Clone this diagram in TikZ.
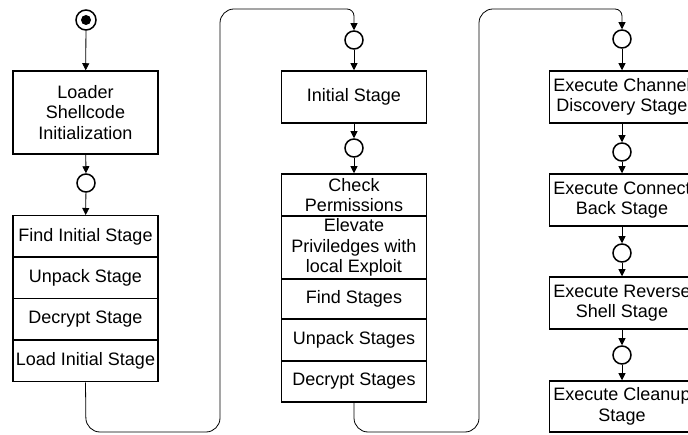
\documentclass[tikz,border=0pt]{standalone}
\usepackage{fontspec}
\setmainfont{Liberation Sans}
\usetikzlibrary{arrows.meta}

\tikzset{
    stage/.style={draw, line width=1.5pt, minimum width=145pt, minimum height=52pt,
        inner sep=0pt, align=center, font=\fontsize{18}{20.5}\selectfont},
    fork/.style={circle, draw, line width=1.5pt, minimum size=18pt, inner sep=0pt},
    flow/.style={-{Triangle[length=7pt,width=7pt]}, line width=0.8pt},
    link/.style={flow, rounded corners=14pt},
}

\begin{document}
\begin{tikzpicture}[x=1pt, y=-1pt]
    \useasboundingbox (0,0) rectangle (688,435);
    \clip (0,0) rectangle (688,435);
    % Loader column
    \node[fork, minimum size=20pt] (init) at (86,20) {};
    \fill (init.center) circle (5pt);
    \node[stage, minimum height=83pt] (loader) at (85.5,112.5) {Loader\\Shellcode\\Initialization};
    \node[fork] (fA) at (86,183) {};
    \node[stage, minimum height=41.5pt] (findinit) at (85.5,236.5) {Find Initial Stage};
    \node[stage, minimum height=41.5pt] (unpack) at (85.5,278) {Unpack Stage};
    \node[stage, minimum height=41.5pt] (decrypt) at (85.5,319.5) {Decrypt Stage};
    \node[stage, minimum height=41.5pt] (loadinit) at (85.5,361) {Load Initial Stage};
    % Initial stage column
    \node[fork] (fB) at (354,40) {};
    \node[stage] (initial) at (354,97) {Initial Stage};
    \node[fork] (fC) at (354,148) {};
    \node[stage, minimum height=42pt] (perm) at (354,195) {Check\\Permissions};
    \node[stage, minimum height=63pt] (elevate) at (354,247.5) {Elevate\\Priviledges with\\local Exploit};
    \node[stage, minimum height=40pt] (findstg) at (354,299) {Find Stages};
    \node[stage, minimum height=42pt] (unpackstg) at (354,340) {Unpack Stages};
    \node[stage, minimum height=41pt] (decryptstg) at (354,381.5) {Decrypt Stages};
    % Stages column
    \node[fork] (fD) at (622,39) {};
    \node[stage] (channel) at (622,97) {Execute Channel\\Discovery Stage};
    \node[fork] (fE) at (622,152) {};
    \node[stage] (connect) at (622,200) {Execute Connect\\Back Stage};
    \node[fork] (fF) at (622,253) {};
    \node[stage] (reverse) at (622,303) {Execute Reverse\\Shell Stage};
    \node[fork] (fG) at (622,355) {};
    \node[stage, minimum height=51pt] (cleanup) at (622,406.5) {Execute Cleanup\\Stage};
    % Arrows
    \draw[flow] (init) -- (loader);
    \draw[flow] (loader) -- (fA);
    \draw[flow] (fA) -- (findinit);
    \draw[flow] (fB) -- (initial);
    \draw[flow] (initial) -- (fC);
    \draw[flow] (fC) -- (perm);
    \draw[flow] (fD) -- (channel);
    \draw[flow] (channel) -- (fE);
    \draw[flow] (fE) -- (connect);
    \draw[flow] (connect) -- (fF);
    \draw[flow] (fF) -- (reverse);
    \draw[flow] (reverse) -- (fG);
    \draw[flow] (fG) -- (cleanup);
    % Jumps between columns
    \draw[link] (loadinit.south) -- (86,432) -- (220,432) -- (220,9)
        [rounded corners=7pt] -- (354,9) -- (fB.north);
    \draw[link] (decryptstg.south) -- (354,432) -- (479,432) -- (479,9)
        [rounded corners=7pt] -- (622,9) -- (fD.north);
\end{tikzpicture}
\end{document}
